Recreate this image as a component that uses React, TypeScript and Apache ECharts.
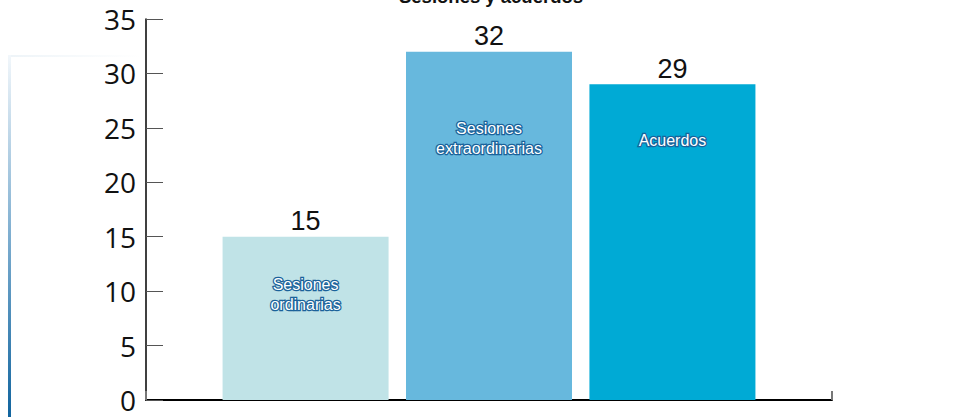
import React, { useEffect, useRef } from "react";
import * as echarts from "echarts";

const title = "Sesiones y acuerdos";
const seriesNames = ["Sesiones ordinarias", "Sesiones extraordinarias", "Acuerdos"];
const seriesLabels = ["Sesiones\nordinarias", "Sesiones\nextraordinarias", "Acuerdos"];
const values = [15, 32, 29];
const colors = ["#c0e3e7", "#67b8dd", "#00aad5"];
const insideDistances = [38, 67, 46];
const yTicks = { min: 0, max: 35, interval: 5 };

export default function App() {
  const ref = useRef<HTMLDivElement>(null);
  useEffect(() => {
    if (!ref.current) return;
    const chart = echarts.init(ref.current, null, { renderer: "svg" });
    const valueSeries = values.map((v, i) => ({
      name: seriesNames[i],
      type: "bar",
      xAxisIndex: 0,
      barWidth: 166,
      barGap: "10.5%",
      data: [v],
      itemStyle: { color: colors[i] },
      label: {
        show: true,
        position: "top",
        distance: 2,
        fontFamily: "Liberation Sans, Arial, sans-serif",
        fontSize: 27,
        color: "#111",
      },
    }));
    const nameSeries = values.map((v, i) => ({
      name: seriesNames[i] + "_label",
      type: "bar",
      xAxisIndex: 1,
      barWidth: 166,
      barGap: "10.5%",
      data: [v],
      itemStyle: { color: "rgba(0,0,0,0)" },
      silent: true,
      label: {
        show: true,
        position: "insideTop",
        distance: insideDistances[i],
        formatter: () => seriesLabels[i],
        fontFamily: "Liberation Sans, Arial, sans-serif",
        fontSize: 16,
        lineHeight: 20,
        color: "#ffffff",
        textBorderColor: "#1a629a",
        textBorderWidth: 2.5,
      },
    }));
    chart.setOption({
      animation: false,
      backgroundColor: "#ffffff",
      title: {
        text: title,
        left: 486,
        textAlign: "center",
        top: -18,
        textStyle: {
          fontFamily: "Liberation Sans, Arial, sans-serif",
          fontSize: 18.5,
          fontWeight: "bold",
          color: "#111",
        },
      },
      grid: { left: 146, right: 125, top: 19, bottom: 17 },
      xAxis: [
        {
          type: "category",
          data: [""],
          axisLine: { lineStyle: { color: "#000", width: 2 } },
          axisTick: { show: true, inside: true, length: 9, lineStyle: { color: "#777", width: 2 } },
          axisLabel: { show: false },
        },
        {
          type: "category",
          data: [""],
          position: "bottom",
          show: false,
        },
      ],
      yAxis: {
        type: "value",
        min: yTicks.min,
        max: yTicks.max,
        interval: yTicks.interval,
        axisLine: { show: true, lineStyle: { color: "#000", width: 1.5 } },
        axisTick: { show: true, inside: true, length: 17, lineStyle: { color: "#555" } },
        splitLine: { show: false },
        axisLabel: {
          fontFamily: "Open Sans, Noto Sans, sans-serif",
          fontSize: 28,
          color: "#111",
          margin: 10,
        },
      },
      graphic: [
        {
          type: "rect",
          shape: { x: 8, y: 55, width: 3, height: 362 },
          style: {
            fill: new echarts.graphic.LinearGradient(0, 0, 0, 1, [
              { offset: 0, color: "#f2f7fb" },
              { offset: 0.5, color: "#7eaed0" },
              { offset: 1, color: "#11649e" },
            ]),
          },
          silent: true,
        },
        {
          type: "rect",
          shape: { x: 11, y: 55, width: 130, height: 2 },
          style: {
            fill: new echarts.graphic.LinearGradient(0, 0, 1, 0, [
              { offset: 0, color: "#eef4f8" },
              { offset: 1, color: "#ffffff" },
            ]),
          },
          silent: true,
        },
      ],
      series: [...valueSeries, ...nameSeries],
    });
    return () => chart.dispose();
  }, []);
  return (
    <div
      ref={ref}
      style={{ position: "fixed", left: 0, top: 0, width: 957, height: 417 }}
    />
  );
}
